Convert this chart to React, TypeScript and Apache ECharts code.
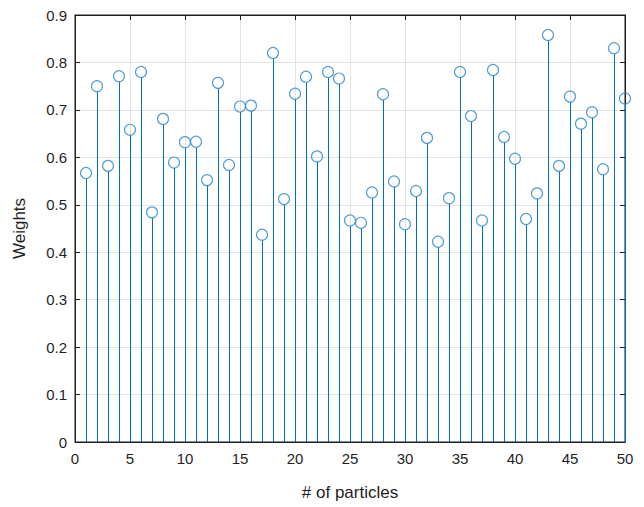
import React, { useEffect, useRef } from "react";
import * as echarts from "echarts";

const particles = Array.from({ length: 50 }, (_, i) => i + 1);
const weights = [
  0.567, 0.750, 0.582, 0.771, 0.658, 0.780, 0.484, 0.681, 0.589, 0.632,
  0.633, 0.552, 0.757, 0.584, 0.707, 0.709, 0.437, 0.820, 0.512, 0.734,
  0.770, 0.602, 0.780, 0.766, 0.467, 0.462, 0.526, 0.733, 0.549, 0.459,
  0.529, 0.641, 0.422, 0.514, 0.780, 0.687, 0.467, 0.784, 0.643, 0.597,
  0.470, 0.524, 0.858, 0.582, 0.728, 0.671, 0.695, 0.575, 0.830, 0.724,
];
const xTicks = { min: 0, max: 50, interval: 5 };
const yTicks = { min: 0, max: 0.9, interval: 0.1 };

const FONT = "Liberation Sans, Arial, sans-serif";
const BLUE = "#0072BD";
const INK = "#1f1f1f";

export default function App() {
  const ref = useRef<HTMLDivElement>(null);
  useEffect(() => {
    const chart = echarts.init(ref.current!, null, { renderer: "svg" });
    const data = particles.map((p, i) => [p, weights[i]]);
    const axisLine = { show: true, onZero: false, lineStyle: { color: INK, width: 1 } };
    const tickIn = { show: true, inside: true, length: 5, lineStyle: { color: INK } };
    chart.setOption({
      animation: false,
      grid: {
        left: 75,
        right: 19,
        top: 15,
        bottom: 65,
        show: true,
        borderColor: INK,
        borderWidth: 1,
        backgroundColor: "transparent",
      },
      xAxis: [
        {
          type: "value",
          ...xTicks,
          name: "# of particles",
          nameLocation: "middle",
          nameGap: 42,
          nameTextStyle: { fontFamily: FONT, fontSize: 17, color: INK },
          axisLine,
          axisTick: tickIn,
          axisLabel: { fontFamily: FONT, fontSize: 15, color: INK, margin: 9 },
          splitLine: { show: true, lineStyle: { color: "#e3e3e3" } },
        },
        {
          type: "value",
          position: "top",
          ...xTicks,
          axisLine,
          axisTick: tickIn,
          axisLabel: { show: false },
          splitLine: { show: false },
        },
      ],
      yAxis: [
        {
          type: "value",
          ...yTicks,
          name: "Weights",
          nameLocation: "middle",
          nameGap: 47,
          nameTextStyle: { fontFamily: FONT, fontSize: 17, color: INK },
          axisLine,
          axisTick: tickIn,
          axisLabel: {
            fontFamily: FONT,
            fontSize: 15,
            color: INK,
            margin: 8,
            formatter: (v: number) => String(Math.round(v * 10) / 10),
          },
          splitLine: { show: true, lineStyle: { color: "#e3e3e3" } },
        },
        {
          type: "value",
          position: "right",
          ...yTicks,
          axisLine,
          axisTick: tickIn,
          axisLabel: { show: false },
          splitLine: { show: false },
        },
      ],
      series: [
        {
          type: "custom",
          data,
          renderItem: (params: any, api: any) => {
            const x = api.value(0);
            const y = api.value(1);
            const p0 = api.coord([x, 0]);
            const p1 = api.coord([x, y]);
            const px = Math.round(p0[0]) + 0.5;
            return {
              type: "line",
              shape: { x1: px, y1: p0[1], x2: px, y2: p1[1] + 5.5 },
              style: { stroke: BLUE, lineWidth: 1 },
            };
          },
          z: 2,
        },
        {
          type: "scatter",
          data,
          symbol: "circle",
          symbolSize: 11,
          itemStyle: { color: "rgba(255,255,255,0)", borderColor: "#2d87c8", borderWidth: 1.2 },
          z: 3,
        },
      ],
    });
    return () => chart.dispose();
  }, []);
  return <div ref={ref} style={{ width: 644, height: 507, position: "absolute", left: 0, top: 0 }} />;
}
